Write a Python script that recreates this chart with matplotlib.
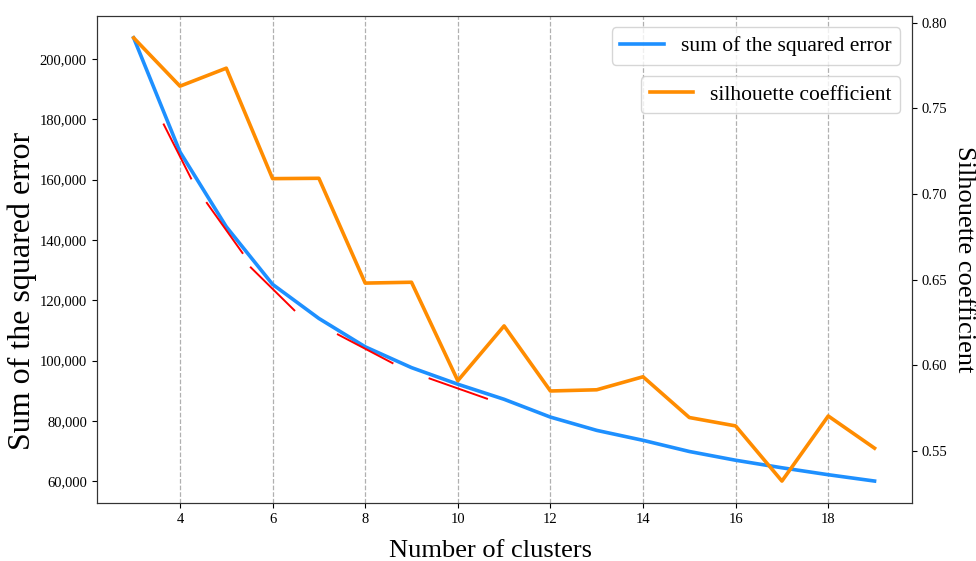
import matplotlib
matplotlib.use("Agg")
import matplotlib.pyplot as plt
from matplotlib.ticker import FuncFormatter

plt.rcParams["font.family"] = ["Liberation Serif", "DejaVu Serif"]

# cluster counts and the two scores
clusters = [3, 4, 5, 6, 7, 8, 9, 10, 11, 12, 13, 14, 15, 16, 17, 18, 19]
sse = [207000, 169200, 144400, 125300, 114000, 104600, 97700, 92200,
       87200, 81300, 76900, 73600, 69900, 67000, 64500, 62200, 60100]
silhouette = [0.7912, 0.7630, 0.7735, 0.7090, 0.7092, 0.6480, 0.6485, 0.5910,
              0.6230, 0.5850, 0.5857, 0.5933, 0.5695, 0.5646, 0.5324, 0.5704, 0.5516]

# short red tangent segments on the SSE curve
tangent_x0 = [3.65, 4.58, 5.53, 7.41, 9.39]
tangent_x1 = [4.24, 5.35, 6.47, 8.59, 10.63]
tangent_y0 = [178300, 152300, 130900, 108700, 94100]
tangent_y1 = [160400, 135700, 116700, 99200, 87400]

x_ticks = [4, 6, 8, 10, 12, 14, 16, 18]

fig, ax = plt.subplots(figsize=(9.76, 5.61), dpi=100)
fig.subplots_adjust(left=0.099, right=0.934, top=0.972, bottom=0.103)

ax.plot(clusters, sse, color="#1E90FF", linewidth=2.6, label="sum of the squared error", zorder=3)
for x0, x1, y0, y1 in zip(tangent_x0, tangent_x1, tangent_y0, tangent_y1):
    ax.plot([x0, x1], [y0, y1], color="red", linewidth=1.4, zorder=4)

ax.set_xticks(x_ticks)
ax.grid(axis="x", linestyle="--", color="#b0b0b0", linewidth=0.9)
ax.yaxis.set_major_formatter(FuncFormatter(lambda v, _: f"{int(v):,}"))
ax.tick_params(labelsize=10.5)
ax.set_xlabel("Number of clusters", fontsize=19)
ax.xaxis.set_label_coords(0.483, -0.075)
ax.set_ylabel("Sum of the squared error", fontsize=23)
ax.yaxis.set_label_coords(-0.073, 0.435)
for s in ax.spines.values():
    s.set_color("#333333")

ax2 = ax.twinx()
ax2.plot(clusters, silhouette, color="#FF8C00", linewidth=2.6, label="silhouette coefficient")
ax2.tick_params(labelsize=10.5)
ax2.yaxis.set_major_formatter(FuncFormatter(lambda v, _: f"{v:.2f}"))
ax2.set_ylabel("Silhouette coefficient", fontsize=19, rotation=270, labelpad=20)
for s in ax2.spines.values():
    s.set_color("#333333")

ax.legend(loc="upper right", fontsize=15.5, bbox_to_anchor=(0.999, 0.998))
ax2.legend(loc="upper right", fontsize=15.5, bbox_to_anchor=(0.999, 0.898))

fig.savefig("out.png", dpi=100)
